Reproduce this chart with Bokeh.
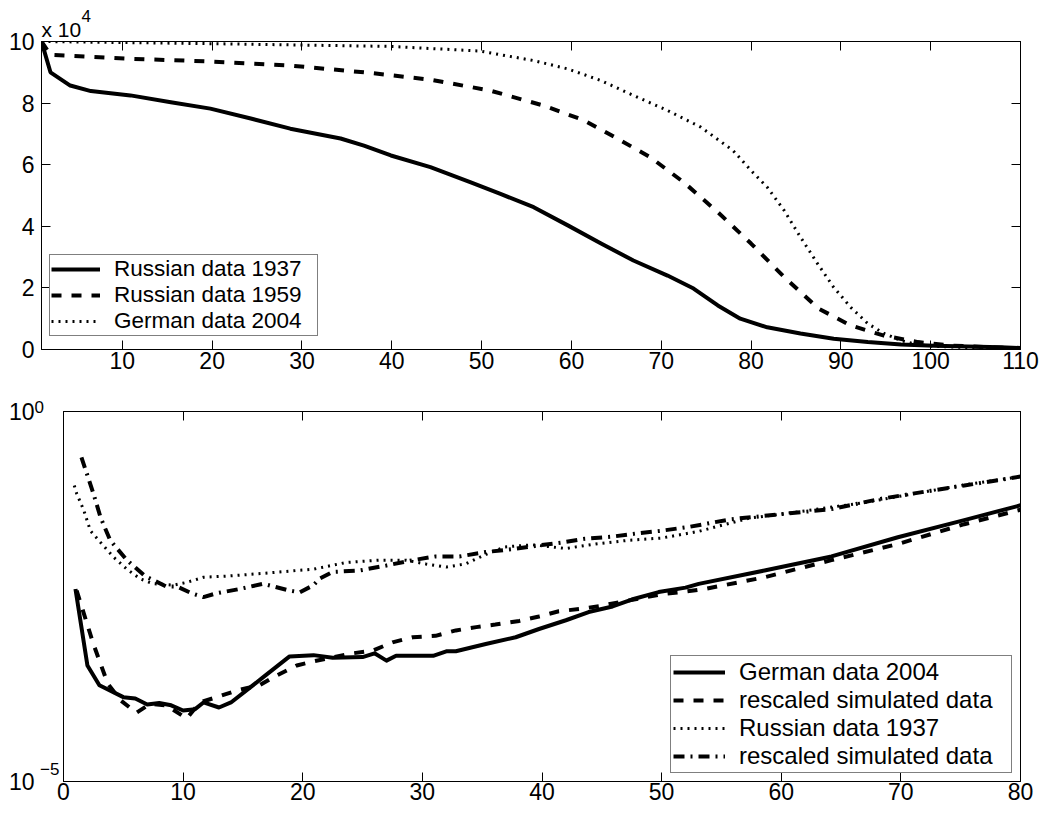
import numpy as np
from bokeh.plotting import figure
from bokeh.models import (LinearAxis, LogAxis, FixedTicker, CustomJSTickFormatter,
                          Legend, LegendItem, Range1d, Title)
from bokeh.embed import file_html
from bokeh.resources import INLINE

FONT = "Liberation Sans"
TICK_FS = "23px"
EXP_FS = "17px"

# ---------------- top panel: survivors out of 100000 ----------------
age_r1937 = [1, 2, 4.2, 6.5, 10.9, 15.4, 19.8, 24.3, 28.7, 34.3, 36.9, 39.9, 44.3, 48.8,
             52.1, 55.8, 59.6, 63.3, 66.9, 70.7, 73.6, 76.3, 78.8, 81.8, 85.5, 89.2, 93,
             96.7, 100.4, 107.8, 110]
surv_r1937 = [100000, 90000, 85700, 83900, 82500, 80300, 78200, 75000, 71700, 68500, 66200,
              63000, 59200, 54300, 50500, 46200, 40300, 34400, 28900, 24000, 19800, 14300,
              10000, 7200, 5200, 3500, 2400, 1600, 1200, 700, 500]

age_r1959 = [1, 2, 10.9, 19.8, 28.7, 37.6, 44.3, 50.9, 56.9, 61.4, 65.1, 68.8, 72.5, 76.3,
             80, 83.7, 87.5, 91.1, 94.8, 98.6, 102.2, 110]
surv_r1959 = [100000, 95700, 94400, 93500, 92200, 89800, 87600, 84100, 79200, 74400, 68500,
              62400, 54300, 44600, 34400, 23500, 13300, 7800, 4500, 2400, 1300, 300]

age_g2004 = [1, 19.8, 39.9, 49.8, 55.8, 59.6, 63.3, 66.9, 70.7, 74.4, 78, 80, 81.8, 83.7,
             85.5, 87.4, 89.2, 91.1, 93, 94.8, 96.7, 98.5, 100.3, 110]
surv_g2004 = [100000, 99300, 98400, 96900, 93800, 91100, 87300, 82500, 77600, 72200, 64600,
              58100, 52700, 45100, 36500, 27900, 20200, 13700, 8400, 5200, 2900, 1600, 1000, 100]

top_xticks = [10, 20, 30, 40, 50, 60, 70, 80, 90, 100, 110]
top_yticks = [0, 20000, 40000, 60000, 80000, 100000]

# ---------------- bottom panel: mortality rates (log scale) ----------------
age_g_data = [1, 2, 3, 5, 6, 7, 8, 9, 10, 11, 11.7, 13, 14, 16.7, 18.9, 20.9, 22.5, 25, 26,
              27, 27.8, 30.9, 32, 32.8, 35.3, 37.8, 39.75, 42, 43.9, 45.9, 47.5, 49.75, 52,
              53.1, 58.6, 64.2, 69.75, 75.3, 80]
rate_g_data = [4.0e-3, 3.7e-4, 2.0e-4, 1.38e-4, 1.32e-4, 1.10e-4, 1.15e-4, 1.07e-4, 9.1e-5,
               9.5e-5, 1.17e-4, 1.0e-4, 1.17e-4, 2.57e-4, 4.9e-4, 5.1e-4, 4.7e-4, 4.8e-4,
               5.4e-4, 4.3e-4, 5.0e-4, 5.0e-4, 5.75e-4, 5.75e-4, 7.2e-4, 8.9e-4, 1.15e-3,
               1.51e-3, 1.95e-3, 2.32e-3, 2.88e-3, 3.63e-3, 4.17e-3, 4.68e-3, 7.1e-3, 1.10e-2,
               2.0e-2, 3.4e-2, 5.4e-2]

age_g_sim = [1.1, 2.5, 3.7, 4.75, 6.1, 7.25, 8.6, 10.3, 11.4, 12.8, 14.5, 16.4, 17.8, 19.5,
             20.9, 24.2, 25.9, 27.5, 29.2, 31.1, 32.8, 34.5, 36.1, 38.1, 39.75, 41.4, 43.1,
             44.75, 46.4, 48.3, 50, 51.7, 53.6, 58.6, 64.2, 69.75, 75.3, 80]
rate_g_sim = [3.8e-3, 7.2e-4, 2.1e-4, 1.26e-4, 8.5e-5, 1.12e-4, 1.07e-4, 7.1e-5, 1.17e-4,
              1.38e-4, 1.70e-4, 2.0e-4, 2.7e-4, 3.7e-4, 4.2e-4, 5.4e-4, 5.9e-4, 7.6e-4,
              8.9e-4, 9.3e-4, 1.10e-3, 1.22e-3, 1.32e-3, 1.48e-3, 1.70e-3, 2.0e-3, 2.14e-3,
              2.34e-3, 2.63e-3, 3.0e-3, 3.4e-3, 3.63e-3, 4.0e-3, 5.75e-3, 9.8e-3, 1.62e-2,
              3.0e-2, 4.7e-2]

age_r_data = [0.9, 1.1, 1.7, 2.25, 3.1, 4.2, 5.3, 6.4, 7.5, 9.2, 10.3, 11.7, 13.9, 16.7,
              19.5, 20.9, 23.6, 26.4, 28.6, 30.3, 32, 33.6, 35.3, 36.9, 39.2, 42, 44.5,
              47.25, 50, 53.1, 57.25, 61.4, 67, 71.2, 75.3, 80]
rate_r_data = [0.10, 7.8e-2, 4.6e-2, 2.45e-2, 1.70e-2, 1.07e-2, 7.4e-3, 5.5e-3, 4.7e-3,
               4.5e-3, 4.9e-3, 5.75e-3, 6.0e-3, 6.5e-3, 7.1e-3, 7.4e-3, 9.1e-3, 9.8e-3,
               9.8e-3, 8.7e-3, 7.9e-3, 8.7e-3, 1.17e-2, 1.48e-2, 1.58e-2, 1.41e-2, 1.62e-2,
               1.82e-2, 1.95e-2, 2.4e-2, 3.6e-2, 4.4e-2, 5.9e-2, 7.8e-2, 0.102, 0.132]

age_r_sim = [1.5, 2.5, 3.1, 3.9, 5.3, 6.8, 8.6, 9.5, 10.7, 11.7, 12.8, 14.75, 16.7, 18.9,
             19.75, 20.9, 21.4, 22.5, 24.75, 27, 29.2, 31.1, 33.1, 35.3, 37.5, 39.75, 41.7,
             43.6, 45.9, 47.8, 50, 52.25, 55.8, 60, 64.2, 68.3, 72.5, 75.3, 80]
rate_r_sim = [0.24, 7.8e-2, 3.7e-2, 1.82e-2, 9.8e-3, 6.0e-3, 4.3e-3, 4.3e-3, 3.5e-3, 3.1e-3,
              3.5e-3, 4.0e-3, 4.7e-3, 3.8e-3, 3.6e-3, 4.5e-3, 5.5e-3, 6.8e-3, 7.1e-3, 8.3e-3,
              9.8e-3, 1.10e-2, 1.10e-2, 1.26e-2, 1.38e-2, 1.55e-2, 1.70e-2, 1.91e-2, 2.04e-2,
              2.24e-2, 2.45e-2, 2.75e-2, 3.5e-2, 4.1e-2, 4.8e-2, 6.6e-2, 8.5e-2, 0.10, 0.132]

bot_xticks = [0, 10, 20, 30, 40, 50, 60, 70, 80]
bot_yticks = [1e-5, 1.0]
# position of the raised exponent of the lower log label (a little above 1e-5)
exp_tick = [10 ** (-5 + 12.5 / 74.0)]

SOLID = dict(line_width=4, line_join="round", line_color="black")
DASH = dict(line_width=4, line_dash="10 10", line_color="black")
DOT = dict(line_width=3, line_dash="2 5", line_color="black")
DASHDOT = dict(line_width=4, line_dash="11 6 2 6", line_color="black")


def empty_fmt():
    return CustomJSTickFormatter(code="return ''")


def style_axis(ax, ticks, labels=True, formatter=None, standoff=2, fs=TICK_FS):
    ax.ticker = FixedTicker(ticks=ticks, minor_ticks=[])
    ax.axis_line_color = "black"
    ax.axis_line_width = 1
    ax.major_tick_line_color = "black"
    ax.major_tick_in = 9
    ax.major_tick_out = 0
    ax.minor_tick_line_color = None
    if labels:
        ax.major_label_text_font = FONT
        ax.major_label_text_font_size = fs
        ax.major_label_text_color = "black"
        ax.major_label_standoff = standoff
        if formatter is not None:
            ax.formatter = formatter
    else:
        ax.formatter = empty_fmt()
        ax.major_label_text_font_size = "4px"
        ax.major_label_standoff = 0


def base_fig(**kw):
    p = figure(output_backend="svg", toolbar_location=None, title=None, **kw)
    p.xgrid.visible = False
    p.ygrid.visible = False
    p.outline_line_color = "black"
    p.outline_line_width = 1
    p.background_fill_color = "white"
    p.border_fill_color = "white"
    return p


def style_legend(leg, fs, gw, lw, pad):
    leg.border_line_color = "black"
    leg.border_line_width = 1
    leg.background_fill_color = "white"
    leg.background_fill_alpha = 1
    leg.label_text_font = FONT
    leg.label_text_font_size = fs
    leg.label_text_color = "black"
    leg.glyph_width = gw
    leg.glyph_height = 20
    leg.label_height = 20
    leg.label_width = lw
    leg.label_standoff = 14
    leg.spacing = 0
    leg.padding = pad


def text_title(text, fs, offset, standoff):
    return Title(text=text, align="left", offset=offset, standoff=standoff,
                 text_font=FONT, text_font_size=fs, text_font_style="normal",
                 text_color="black")


# ---- top figure ----
p1 = base_fig(width=1042, height=380, x_range=Range1d(1, 110), y_range=Range1d(0, 100000),
              min_border_left=41, min_border_right=22, min_border_top=41, min_border_bottom=31)

style_axis(p1.xaxis[0], top_xticks, standoff=2)
style_axis(p1.yaxis[0], top_yticks,
           formatter=CustomJSTickFormatter(code="return (tick/10000).toFixed(0)"), standoff=7)
ax_t = LinearAxis()
style_axis(ax_t, top_xticks, labels=False)
p1.add_layout(ax_t, "above")
ax_r = LinearAxis()
style_axis(ax_r, top_yticks, labels=False)
p1.add_layout(ax_r, "right")
# "x 10^4" multiplier, base and raised exponent
p1.add_layout(text_title("x 10", "21px", 0, 1), "above")
p1.add_layout(text_title("4", EXP_FS, 40, -12), "above")

t1 = p1.line(age_r1937, surv_r1937, **SOLID)
t2 = p1.line(age_r1959, surv_r1959, **DASH)
t3 = p1.line(age_g2004, surv_g2004, **DOT)

leg1 = Legend(items=[LegendItem(label="Russian data 1937", renderers=[t1]),
                     LegendItem(label="Russian data 1959", renderers=[t2]),
                     LegendItem(label="German data 2004", renderers=[t3])],
              location=(8, 13))
style_legend(leg1, "22.5px", 49, 202, 1)
leg1.margin = 0
p1.add_layout(leg1)

# ---- bottom figure ----
p2 = base_fig(width=1042, height=436, x_range=Range1d(0, 80), y_range=Range1d(1e-5, 1),
              y_axis_type="log",
              min_border_left=63, min_border_right=22, min_border_top=31, min_border_bottom=35)
style_axis(p2.xaxis[0], bot_xticks, standoff=1)
# inner left axis: frame line + raised exponent of 10^-5
style_axis(p2.yaxis[0], exp_tick,
           formatter=CustomJSTickFormatter(code=r"return '\u22125';"), standoff=4, fs=EXP_FS)
p2.yaxis[0].major_tick_line_color = None
# outer left axis: the "10" bases
ax_l2 = LogAxis()
style_axis(ax_l2, bot_yticks, formatter=CustomJSTickFormatter(code="return '10';"), standoff=3)
ax_l2.axis_line_color = None
ax_l2.major_tick_line_color = None
p2.add_layout(ax_l2, "left")
ax_t2 = LinearAxis()
style_axis(ax_t2, bot_xticks, labels=False)
p2.add_layout(ax_t2, "above")
ax_r2 = LogAxis()
style_axis(ax_r2, bot_yticks, labels=False)
p2.add_layout(ax_r2, "right")
# raised exponent of 10^0 (sits above the frame's top edge)
p2.add_layout(text_title("0", EXP_FS, -29, -2), "above")

b1 = p2.line(age_g_data, rate_g_data, **SOLID)
b2 = p2.line(age_g_sim, rate_g_sim, **DASH)
b3 = p2.line(age_r_data, rate_r_data, **DOT)
b4 = p2.line(age_r_sim, rate_r_sim, **DASHDOT)

leg2 = Legend(items=[LegendItem(label="German data 2004", renderers=[b1]),
                     LegendItem(label="rescaled simulated data", renderers=[b2]),
                     LegendItem(label="Russian data 1937", renderers=[b3]),
                     LegendItem(label="rescaled simulated data", renderers=[b4])],
              location="bottom_right")
style_legend(leg2, "24px", 52, 270, 2)
leg2.margin = 8
p2.add_layout(leg2)

open("out.html", "w").write(file_html([p1, p2], INLINE))
